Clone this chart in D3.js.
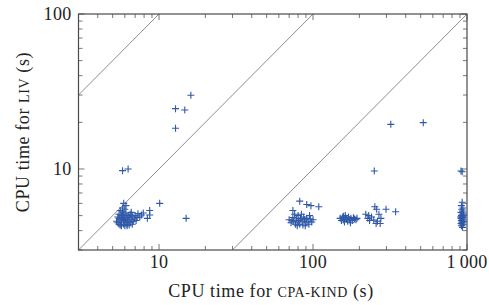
<!DOCTYPE html>
<html>
<head>
<meta charset="utf-8">
<script src="https://cdn.jsdelivr.net/npm/d3@7"></script>
<style>
  body { margin: 0; background: #fff; }
  text { font-family: "Liberation Serif", "DejaVu Serif", serif; fill: #222; }
</style>
</head>
<body>
<div id="chart"></div>
<script>
// CPU time (s) for cpa-kind (x) and liv (y)
const cpaKindTimes = [
  5.3, 5.4, 5.5, 5.5, 5.6, 5.6, 5.7, 5.7, 5.8, 5.8, 5.9, 5.9, 5.9, 6.0, 6.0, 6.0,
  6.1, 6.1, 6.2, 6.2, 6.3, 6.3, 6.4, 6.4, 6.5, 6.5, 6.6, 6.7, 6.7, 6.8, 5.8, 6.1,
  5.6, 5.4, 5.5, 6.9, 7.0, 7.2, 7.3, 7.5, 7.7, 7.9, 7.1, 6.6, 6.2, 5.7, 6.0, 5.9,
  8.4, 8.7, 8.7, 10.1, 15.0,
  5.8, 6.3, 12.8, 14.7, 12.8, 16.1,
  82, 91, 97, 109, 74,
  70, 72, 74, 75, 77, 78, 80, 80, 82, 83, 85, 86, 87, 88, 90, 91, 93, 94, 96, 98,
  100, 76, 84, 79, 89, 73, 95, 81,
  150, 153, 156, 158, 160, 163, 165, 168, 170, 173, 176, 180, 183, 186, 190, 193,
  162, 175, 158,
  220, 227, 233, 248, 257, 273, 276, 268, 259, 252, 298, 344, 240, 262, 230,
  250, 320, 520,
  930, 920, 940, 925, 935, 915, 945, 930, 920, 940, 925, 935, 915, 945, 930, 920,
  940, 925, 935, 915, 945, 930, 920, 935, 950, 910, 950,
  914, 930
];
const livTimes = [
  4.6, 4.9, 4.4, 5.1, 4.7, 4.35, 5.0, 4.5, 4.8, 5.3, 4.4, 4.65, 6.0, 5.5, 4.9, 4.3,
  4.55, 5.2, 4.75, 4.4, 5.0, 4.6, 4.35, 4.85, 4.5, 5.1, 4.7, 4.4, 4.95, 4.6, 5.6, 5.8,
  5.4, 4.5, 4.8, 4.75, 5.0, 4.85, 5.15, 4.9, 5.05, 5.2, 4.65, 5.25, 4.3, 4.3, 4.7, 5.1,
  4.8, 5.05, 5.4, 6.0, 4.8,
  9.75, 10.0, 24.5, 24.0, 18.3, 29.9,
  6.2, 5.9, 5.8, 5.7, 5.4,
  4.7, 4.5, 4.85, 4.6, 4.4, 4.75, 4.55, 5.0, 4.4, 4.8, 4.6, 4.35, 4.9, 4.7, 4.5, 4.8,
  4.6, 4.4, 4.75, 4.55, 4.7, 5.1, 5.1, 4.3, 4.3, 4.65, 5.0, 4.65,
  4.8, 4.65, 4.9, 4.7, 4.55, 4.85, 4.75, 4.6, 4.9, 4.7, 4.8, 4.65, 4.85, 4.75, 4.7, 4.8,
  5.0, 4.5, 4.95,
  5.1, 4.8, 4.65, 4.68, 4.45, 4.45, 4.8, 5.1, 5.5, 5.7, 5.5, 5.3, 4.9, 4.6, 5.0,
  9.7, 19.4, 19.9,
  6.1, 5.8, 5.6, 5.5, 5.35, 5.25, 5.2, 5.1, 5.0, 4.95, 4.9, 4.85, 4.8, 4.75, 4.7, 4.65,
  4.6, 4.55, 4.5, 4.45, 4.4, 4.35, 4.3, 4.2, 5.05, 4.9, 4.6,
  9.7, 9.6
];

const xDomain = [3, 1000];
const yDomain = [3, 100];
const xMajorTicks = [10, 100, 1000];
const xTickLabels = ['10', '100', '1\u2009000'];
const yMajorTicks = [10, 100];
const yTickLabels = ['10', '100'];
const refFactors = [10, 1, 0.1]; // y = k * x

const width = 489;
const height = 305;
const usableArea = { left: 78.5, right: 467, top: 14, bottom: 250 };

const svg = d3.select('#chart')
  .append('svg')
  .attr('width', width)
  .attr('height', height);

const xScale = d3.scaleLog().domain(xDomain).range([usableArea.left, usableArea.right]);
const yScale = d3.scaleLog().domain(yDomain).range([usableArea.bottom, usableArea.top]);

svg.append('clipPath').attr('id', 'plot-clip')
  .append('rect')
  .attr('x', usableArea.left)
  .attr('y', usableArea.top)
  .attr('width', usableArea.right - usableArea.left)
  .attr('height', usableArea.bottom - usableArea.top);

// reference lines
const line = d3.line().x((d) => xScale(d[0])).y((d) => yScale(d[1]));
svg.append('g')
  .attr('clip-path', 'url(#plot-clip)')
  .selectAll('path')
  .data(refFactors)
  .join('path')
  .attr('d', (k) => line([[xDomain[0], k * xDomain[0]], [xDomain[1], k * xDomain[1]]]))
  .attr('fill', 'none')
  .attr('stroke', '#808080')
  .attr('stroke-width', 0.9);

// minor / major ticks, drawn inward on all four sides
function minorTicks(domain) {
  return xScale.copy().domain(domain).ticks().filter((v) => {
    const m = v / Math.pow(10, Math.floor(Math.log10(v) + 1e-9));
    return Math.abs(m - 1) > 1e-6;
  });
}

const xMinor = minorTicks(xDomain);
const yMinor = minorTicks(yDomain);
const major = 6;
const minor = 4;
const tickColor = '#777';

const axes = svg.append('g').attr('stroke', tickColor).attr('stroke-width', 1);

function drawXTicks(values, len) {
  values.forEach((v) => {
    const x = xScale(v);
    axes.append('line').attr('x1', x).attr('x2', x)
      .attr('y1', usableArea.bottom).attr('y2', usableArea.bottom - len);
    axes.append('line').attr('x1', x).attr('x2', x)
      .attr('y1', usableArea.top).attr('y2', usableArea.top + len);
  });
}
function drawYTicks(values, len) {
  values.forEach((v) => {
    const y = yScale(v);
    axes.append('line').attr('y1', y).attr('y2', y)
      .attr('x1', usableArea.left).attr('x2', usableArea.left + len);
    axes.append('line').attr('y1', y).attr('y2', y)
      .attr('x1', usableArea.right).attr('x2', usableArea.right - len);
  });
}
drawXTicks(xMinor, minor);
drawXTicks(xMajorTicks, major);
drawYTicks(yMinor, minor);
drawYTicks(yMajorTicks, major);

// frame
svg.append('rect')
  .attr('x', usableArea.left)
  .attr('y', usableArea.top)
  .attr('width', usableArea.right - usableArea.left)
  .attr('height', usableArea.bottom - usableArea.top)
  .attr('fill', 'none')
  .attr('stroke', '#4a4a4a')
  .attr('stroke-width', 1.2);

// tick labels
svg.append('g').selectAll('text')
  .data(xMajorTicks)
  .join('text')
  .attr('x', (d) => xScale(d))
  .attr('y', usableArea.bottom + 18)
  .attr('text-anchor', 'middle')
  .attr('font-size', 18)
  .attr('letter-spacing', 0.3)
  .text((d, i) => xTickLabels[i]);

svg.append('g').selectAll('text')
  .data(yMajorTicks)
  .join('text')
  .attr('x', usableArea.left - 7)
  .attr('y', (d) => yScale(d))
  .attr('dy', '0.35em')
  .attr('text-anchor', 'end')
  .attr('font-size', 18)
  .attr('letter-spacing', 0.3)
  .text((d, i) => yTickLabels[i]);

// axis titles (small caps drawn as smaller capitals)
function title(sel, before, caps, after) {
  sel.append('tspan').text(before);
  sel.append('tspan').attr('font-size', 14).text(caps);
  sel.append('tspan').text(after);
}

const xTitle = svg.append('text')
  .attr('x', 271)
  .attr('y', 297)
  .attr('text-anchor', 'middle')
  .attr('font-size', 18)
  .attr('letter-spacing', 0.6);
title(xTitle, 'CPU time for ', 'CPA-KIND', ' (s)');

const yTitle = svg.append('text')
  .attr('transform', `translate(29, ${(usableArea.top + usableArea.bottom) / 2}) rotate(-90)`)
  .attr('text-anchor', 'middle')
  .attr('font-size', 18)
  .attr('letter-spacing', 0.6);
title(yTitle, 'CPU time for ', 'LIV', ' (s)');

// marks
const points = cpaKindTimes.map((x, i) => ({ x, y: livTimes[i] }));
const s = 3.5;
svg.append('g')
  .attr('class', 'dots')
  .selectAll('path')
  .data(points)
  .join('path')
  .attr('d', (d) => {
    const cx = xScale(d.x);
    const cy = yScale(d.y);
    return `M${cx - s},${cy}H${cx + s}M${cx},${cy - s}V${cy + s}`;
  })
  .attr('stroke', '#2f58a8')
  .attr('stroke-width', 1.1)
  .attr('fill', 'none');
</script>
</body>
</html>
